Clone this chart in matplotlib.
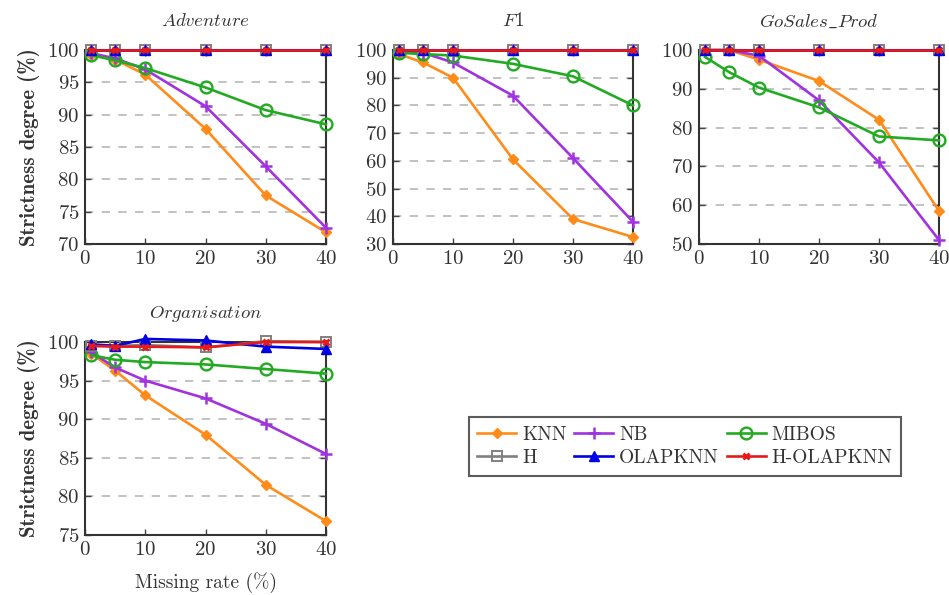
import matplotlib
matplotlib.use('Agg')
import matplotlib.pyplot as plt

# -------------------------------------------------------------------------------------
# Data
missing_rate = [1, 5, 10, 20, 30, 40]
methods = ['KNN', 'NB', 'MIBOS', 'H', 'OLAPKNN', 'H-OLAPKNN']

adventure_knn = [99.3, 98.5, 96.2, 87.8, 77.5, 71.8]
adventure_nb = [99.5, 98.7, 97.0, 91.3, 82.0, 72.5]
adventure_mibos = [99.2, 98.4, 97.2, 94.2, 90.7, 88.5]
adventure_h = [100, 100, 100, 100, 100, 100]
adventure_olapknn = [100, 100, 100, 100, 100, 100]
adventure_holapknn = [100, 100, 100, 100, 100, 100]

f1_knn = [98.5, 95.5, 90.0, 60.5, 39.0, 32.5]
f1_nb = [99.5, 99.0, 95.5, 83.5, 61.0, 38.0]
f1_mibos = [99.0, 98.5, 98.0, 95.0, 90.5, 80.0]
f1_h = [100, 100, 100, 100, 100, 100]
f1_olapknn = [100, 100, 100, 100, 100, 100]
f1_holapknn = [100, 100, 100, 100, 100, 100]

gosales_knn = [100, 100, 97.5, 92.0, 82.0, 58.5]
gosales_nb = [100, 100, 98.5, 87.0, 71.0, 51.0]
gosales_mibos = [98.2, 94.3, 90.3, 85.2, 77.7, 76.7]
gosales_h = [100, 100, 100, 100, 100, 100]
gosales_olapknn = [100, 100, 100, 100, 100, 100]
gosales_holapknn = [100, 100, 100, 100, 100, 100]

org_knn = [98.5, 96.3, 93.1, 88.0, 81.5, 76.8]
org_nb = [98.7, 96.7, 95.0, 92.7, 89.4, 85.5]
org_mibos = [98.3, 97.7, 97.4, 97.1, 96.5, 95.9]
org_h = [99.5, 99.5, 99.6, 99.3, 100.1, 100.0]
org_olapknn = [99.7, 99.5, 100.4, 100.2, 99.4, 99.1]
org_holapknn = [99.5, 99.4, 99.4, 99.3, 100.0, 100.0]

x_ticks = [0, 10, 20, 30, 40]
# -------------------------------------------------------------------------------------

plt.rcParams['font.family'] = 'cmr10'
plt.rcParams['mathtext.fontset'] = 'cm'
plt.rcParams['axes.formatter.use_mathtext'] = True

styles = {
    'KNN': dict(color='#ff8c1a', marker='D', markersize=5.5, mfc='#ff8c1a'),
    'NB': dict(color='#a032e0', marker='+', markersize=8, markeredgewidth=1.8),
    'MIBOS': dict(color='#22aa22', marker='o', markersize=8.5, mfc='none', markeredgewidth=1.7),
    'H': dict(color='#808080', marker='s', markersize=7, mfc='none', markeredgewidth=1.4),
    'OLAPKNN': dict(color='#0000e6', marker='^', markersize=7, mfc='#0000e6'),
    'H-OLAPKNN': dict(color='#e61a1a', marker='x', markersize=5, markeredgewidth=2),
}

panels = [
    (r'$\mathit{Adventure}$', [adventure_knn, adventure_nb, adventure_mibos, adventure_h,
                               adventure_olapknn, adventure_holapknn],
     (70, 100), list(range(70, 101, 5)), [0.0896, 0.590, 0.2539, 0.326], True, False),
    (r'$\mathit{F1}$', [f1_knn, f1_nb, f1_mibos, f1_h, f1_olapknn, f1_holapknn],
     (30, 100), list(range(30, 101, 10)), [0.4141, 0.590, 0.2529, 0.326], False, False),
    (r'$\mathit{GoSales\_Prod}$', [gosales_knn, gosales_nb, gosales_mibos, gosales_h,
                                   gosales_olapknn, gosales_holapknn],
     (50, 100), list(range(50, 101, 10)), [0.7366, 0.590, 0.2529, 0.326], False, False),
    (r'$\mathit{Organisation}$', [org_knn, org_nb, org_mibos, org_h, org_olapknn, org_holapknn],
     (75, 100), list(range(75, 101, 5)), [0.0896, 0.1008, 0.2539, 0.3244], True, True),
]

fig = plt.figure(figsize=(9.49, 5.95), dpi=100)

handles = {}
for title, series, ylim, yticks, rect, show_ylabel, show_xlabel in panels:
    ax = fig.add_axes(rect)
    for ygrid in yticks[1:-1]:
        ax.axhline(ygrid, color='#b8b8b8', lw=1.2, ls=(0, (5, 5)), zorder=0)
    for name, values in zip(methods, series):
        line, = ax.plot(missing_rate, values, lw=1.9, clip_on=False, zorder=3, **styles[name])
        handles[name] = line
    ax.set_xlim(0, 40)
    ax.set_ylim(*ylim)
    ax.set_xticks(x_ticks)
    ax.set_yticks(yticks)
    ax.tick_params(direction='in', top=True, right=True, length=4, width=1.0,
                   labelsize=15, color='#444444', labelcolor='#333333', pad=4)
    for spine in ax.spines.values():
        spine.set_linewidth(1.5)
        spine.set_color('#333333')
    ax.set_title(title, fontsize=13.5, color='#333333', pad=17)
    if show_ylabel:
        ax.set_ylabel('Strictness degree (%)', fontfamily='cmb10', fontsize=15,
                      color='#333333', labelpad=5)
    if show_xlabel:
        ax.set_xlabel('Missing rate (%)', fontsize=14, color='#333333', labelpad=10)

order = ['KNN', 'H', 'NB', 'OLAPKNN', 'MIBOS', 'H-OLAPKNN']
leg = fig.legend([handles[n] for n in order], order, ncol=3, loc='center',
                 bbox_to_anchor=(0.7218, 0.2496), fontsize=14, frameon=True,
                 fancybox=False, edgecolor='#333333', handlelength=2.0,
                 columnspacing=0.4, handletextpad=0.3, labelspacing=0.25,
                 borderpad=0.45)
leg.get_frame().set_linewidth(1.5)
for txt in leg.get_texts():
    txt.set_color('#333333')

fig.savefig('out.png', dpi=100)
